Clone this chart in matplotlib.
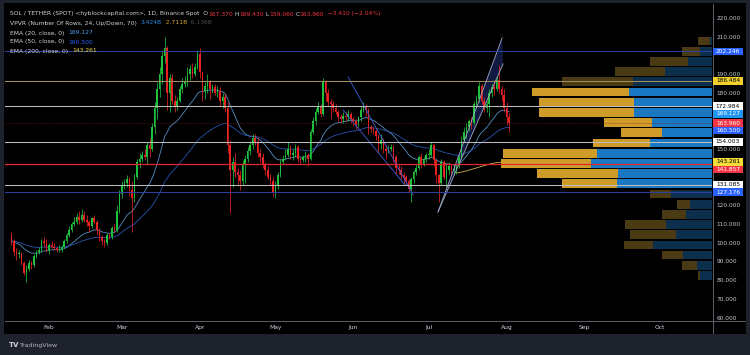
import matplotlib
matplotlib.use('Agg')
import matplotlib.pyplot as plt
import matplotlib.dates as mdates
from matplotlib.patches import Rectangle, Polygon
from matplotlib.transforms import IdentityTransform
import numpy as np
import pandas as pd

plt.rcParams['font.family'] = ['DejaVu Sans']

# ---- daily candles SOL/USDT, 2024-01-17 .. 2024-08-02 ----
start_date = '2024-01-17'
first_open = 104
closes = [
    101, 95, 94, 94, 89, 84, 86, 89, 88, 93, 95, 96, 101, 100, 96,
    99, 98, 97, 96, 96, 98, 101, 104, 107, 110, 111, 114, 112, 115, 112, 111, 109, 113, 111, 107,
    103, 101, 100, 104, 103, 108, 107, 117, 126,
    131, 132, 134, 128, 124, 135, 143, 145, 147, 146, 152, 150, 162, 172, 182, 190, 200, 204, 180, 188,
    176, 173, 176, 182, 185, 186, 190, 193, 190, 194, 201,
    191, 181, 184, 186, 182, 183, 180, 181, 176, 178, 172, 152, 139, 143, 138, 136, 133, 142, 145, 149,
    152, 156, 154, 148, 146, 142, 139, 135, 133, 127,
    131, 136, 143, 145, 147, 150, 147, 148, 151, 145, 144, 146, 147, 145, 159, 165, 170, 173, 169, 186,
    180, 175, 174, 172, 170, 167, 166, 168, 167, 169, 166,
    165, 163, 167, 171, 173, 171, 162, 161, 160, 157, 153, 155, 150, 149, 150, 151, 146, 140, 139, 136,
    135, 133, 129, 134, 138, 140, 146, 142, 145, 147,
    147, 152, 144, 136, 132, 143, 135, 139, 141, 139, 139, 141, 146, 155, 159, 162, 165, 164, 174, 177,
    184, 176, 172, 174, 180, 183, 182, 187, 182, 179, 172,
    167.37, 163.96]
highs = [
    106, 102, 97, 96, 95, 90, 88, 91, 90, 94, 96, 98, 102, 103, 102,
    100, 101, 100, 98, 99, 99, 102, 105, 109, 111, 114, 116, 117, 118, 117, 115, 112, 114, 115, 112,
    108, 104, 102, 105, 105, 109, 110, 120, 128,
    133, 134, 136, 135, 133, 137, 145, 148, 149, 150, 154, 156, 164, 175, 186, 194, 203, 210, 205, 190,
    190, 179, 178, 184, 188, 189, 194, 195, 196, 196, 203,
    204, 192, 186, 190, 187, 185, 185, 184, 183, 180, 180, 175, 155, 146, 148, 140, 139, 144, 147, 151,
    154, 158, 158, 156, 150, 148, 143, 141, 137, 135,
    133, 138, 145, 147, 150, 154, 152, 150, 153, 152, 146, 147, 149, 148, 161, 167, 172, 175, 174, 188,
    187, 182, 177, 176, 174, 171, 169, 170, 170, 171, 170,
    167, 166, 168, 173, 175, 174, 172, 163, 162, 161, 158, 158, 156, 152, 152, 153, 152, 147, 142, 141,
    138, 136, 134, 135, 139, 142, 147, 148, 146, 148,
    150, 154, 153, 145, 137, 145, 144, 142, 143, 142, 142, 142, 147, 157, 162, 164, 166, 167, 176, 179,
    186, 185, 178, 176, 182, 185, 187, 189, 195, 184, 182,
    175, 169.43]
lows = [
    99, 93, 91, 92, 88, 83, 79, 85, 86, 87, 92, 94, 95, 98, 95,
    94, 97, 96, 95, 95, 95, 97, 100, 103, 106, 109, 110, 110, 111, 111, 109, 106, 108, 110, 104,
    101, 99, 98, 99, 102, 102, 106, 106, 116,
    124, 129, 130, 125, 106, 122, 134, 140, 143, 144, 142, 146, 149, 158, 166, 178, 185, 196, 171, 170,
    174, 170, 171, 175, 180, 183, 184, 187, 188, 189, 193,
    188, 176, 177, 180, 177, 180, 179, 178, 173, 172, 170, 148, 116, 130, 135, 131, 128, 131, 132, 143,
    147, 150, 152, 146, 143, 140, 136, 134, 131, 125,
    124, 129, 135, 142, 144, 146, 145, 144, 146, 143, 142, 143, 143, 141, 144, 158, 163, 169, 167, 168,
    176, 173, 166, 170, 169, 165, 164, 164, 165, 165, 164,
    163, 161, 162, 165, 170, 168, 158, 159, 158, 155, 148, 150, 148, 145, 148, 149, 143, 137, 137, 134,
    132, 131, 127, 122, 132, 136, 139, 140, 141, 143,
    145, 146, 141, 132, 122, 131, 134, 130, 137, 137, 136, 137, 140, 145, 154, 156, 160, 161, 163, 172,
    175, 174, 170, 170, 167, 178, 179, 181, 180, 176, 170,
    163, 159.06]

ema200_start = '2024-07-12'
ema200_tail = [137.3, 137.5, 137.8, 138.1, 138.4, 138.8, 139.2, 139.6, 140.0, 140.4, 140.8,
               141.2, 141.6, 142.0, 142.3, 142.6, 142.8, 143.0, 143.1, 143.2, 143.26]

# ---- visible range volume profile (24 rows, bottom -> top), millions ----
vp_low = 79.8
vp_step = 5.448
vp_up = [31, 40, 77, 158, 97, 121, 68, 59, 108, 253, 250, 322, 307, 165, 133, 160,
         207, 207, 220, 210, 124, 64, 33, 6]
vp_down = [6, 41, 55, 76, 122, 109, 64, 35, 56, 146, 214, 239, 249, 150, 108, 127,
           252, 252, 258, 189, 135, 100, 47, 31]
vp_value_area = range(9, 19)

# ---- horizontal levels ----
levels = [202.246, 186.484, 172.984, 154.003, 141.857, 131.085, 127.176]
level_colors = ['#2f3f9e', '#a38f5c', '#bdbdbd', '#bdbdbd', '#e3262b', '#bdbdbd', '#2f3f9e']
last_price = 163.96

# ---- drawings (date, price) ----
fall_line1 = [('2024-05-29 22:00', 188.6), ('2024-06-24 20:00', 125.6)]
fall_line2 = [('2024-05-27 22:00', 171.0), ('2024-06-21 14:00', 130.9)]
wedge_base = ('2024-07-04 17:00', 116.5)
wedge_top_left = ('2024-07-30 05:00', 209.5)
wedge_top_right = ('2024-07-30 14:00', 195.6)

# ---- axis labels ----
price_labels = [202.246, 186.484, 172.984, 169.127, 163.960, 160.500, 154.003, 143.261,
                141.857, 131.085, 127.176]
price_label_bg = ['#2962ff', '#f2d12e', '#ffffff', '#2196f3', '#f23645', '#2962ff', '#ffffff',
                  '#f5dc3b', '#f23645', '#ffffff', '#2962ff']
price_label_fg = ['white', 'black', 'black', 'white', 'white', 'white', 'black', 'black',
                  'white', 'black', 'white']
months = ['2024-02-01', '2024-03-01', '2024-04-01', '2024-05-01', '2024-06-01',
          '2024-07-01', '2024-08-01', '2024-09-01', '2024-10-01']
month_names = ['Feb', 'Mar', 'Apr', 'May', 'Jun', 'Jul', 'Aug', 'Sep', 'Oct']

W, H = 750, 355
fig = plt.figure(figsize=(W / 100, H / 100), dpi=100, facecolor='#1e222d')

bg = fig.add_axes([0, 0, 1, 1])
bg.set_xlim(0, W)
bg.set_ylim(H, 0)
bg.axis('off')
bg.add_patch(Rectangle((4, 3), 742, 331, color='#000000', lw=0))
bg.plot([712.5, 712.5], [4, 333], color='#5d606b', lw=0.7)
bg.plot([5, 745], [321, 321], color='#5d606b', lw=0.7)

ax = fig.add_axes([5 / W, (H - 321) / H, 707 / W, 317 / H])
ax.set_facecolor('none')
for s in ax.spines.values():
    s.set_visible(False)

dates = pd.date_range(start_date, periods=len(closes), freq='D')
x = mdates.date2num(dates)
c = np.array(closes, float)
o = np.concatenate([[first_open], c[:-1]])
h = np.maximum(np.array(highs, float), np.maximum(o, c))
l = np.minimum(np.array(lows, float), np.minimum(o, c))
up = c >= o
cols = np.where(up, '#1fc23c', '#ea2222')

ax.set_xlim(mdates.date2num(pd.Timestamp('2024-01-14 12:00')),
            mdates.date2num(pd.Timestamp('2024-10-21 16:00')))
ax.set_ylim(58.2, 227.6)

ax.vlines(x, l, h, colors=cols, lw=0.55, zorder=3)
body = np.maximum(np.abs(c - o), 0.35)
ax.bar(x, body, bottom=np.minimum(o, c), width=0.62, color=cols, lw=0, zorder=3)

ema20 = pd.Series(c).ewm(span=20, adjust=False).mean()
ema50 = pd.Series(c).ewm(span=50, adjust=False).mean()
ax.plot(x, ema20, color='#5b9bd5', lw=0.55, zorder=2)
ax.plot(x, ema50, color='#2d5bbf', lw=0.55, zorder=2)
x200 = mdates.date2num(pd.date_range(ema200_start, periods=len(ema200_tail), freq='D'))
ax.plot(x200, ema200_tail, color='#d4b04a', lw=0.6, zorder=2)


def pt(p):
    return mdates.date2num(pd.Timestamp(p[0])), p[1]


b0, tl, tr = pt(wedge_base), pt(wedge_top_left), pt(wedge_top_right)
ax.add_patch(Polygon([b0, tl, tr], closed=True, fc='#1b2a6b', alpha=0.6, lw=0, zorder=1))
ax.plot([b0[0], tl[0]], [b0[1], tl[1]], color='#a6aecb', lw=0.6, zorder=4)
ax.plot([b0[0], tr[0]], [b0[1], tr[1]], color='#a6aecb', lw=0.6, zorder=4)
for ln in (fall_line1, fall_line2):
    p0, p1 = pt(ln[0]), pt(ln[1])
    ax.plot([p0[0], p1[0]], [p0[1], p1[1]], color='#3f5fd8', lw=0.6, zorder=4)

# volume profile on a twin x axis, bars grow leftwards from the price scale
vax = ax.twiny()
vax.set_facecolor('none')
vax.xaxis.set_visible(False)
for s in vax.spines.values():
    s.set_visible(False)
tot = np.array(vp_up) + np.array(vp_down)
vax.set_xlim(tot.max() * 3.35, 0)
for i in range(len(vp_up)):
    yc = vp_low + (i + 0.5) * vp_step
    bright = i in vp_value_area
    cu = '#1a78c2' if bright else '#0c2f4d'
    cd = '#cf9c2a' if bright else '#4a3b15'
    vax.barh(yc, vp_up[i], left=0, height=vp_step * 0.86, color=cu, lw=0, zorder=1)
    vax.barh(yc, vp_down[i], left=vp_up[i], height=vp_step * 0.86, color=cd, lw=0, zorder=1)

for lv, lc in zip(levels, level_colors):
    vax.axhline(lv, color=lc, lw=0.75 if lc != '#e3262b' else 0.9, zorder=3)
vax.axhline(last_price, color='#7a1c1c', lw=0.5, ls=(0, (1, 1.5)), zorder=3)

# coloured price tags, pushed apart like TradingView does
tag_h = 7.6
tag_y = [H - ax.transData.transform((ax.get_xlim()[0], v))[1] for v in price_labels]
for i in range(1, len(tag_y)):
    if tag_y[i] - tag_y[i - 1] < tag_h:
        tag_y[i] = tag_y[i - 1] + tag_h

# price scale: ticks hidden where a tag sits on them
ticks = np.arange(60, 230, 10)
tick_txt = []
for v in ticks:
    ty = H - ax.transData.transform((ax.get_xlim()[0], v))[1]
    hidden = any(abs(ty - yy) < 6.0 for yy in tag_y)
    tick_txt.append('' if hidden else f'{v:.3f}')
ax.yaxis.tick_right()
ax.set_yticks(ticks)
ax.set_yticklabels(tick_txt)
ax.tick_params(axis='y', length=0, pad=3.4, labelsize=4.2, labelcolor='#c3c6ce')

ax.set_xticks([mdates.date2num(pd.Timestamp(m)) for m in months])
ax.set_xticklabels(month_names)
ax.tick_params(axis='x', length=0, pad=2.6, labelsize=4.3, labelcolor='#d1d4dc')

ov = fig.add_axes([0, 0, 1, 1], zorder=10)
ov.set_xlim(0, W)
ov.set_ylim(H, 0)
ov.axis('off')
ov.patch.set_visible(False)
for v, yy, b, f in zip(price_labels, tag_y, price_label_bg, price_label_fg):
    ov.add_patch(Rectangle((713, yy - tag_h / 2), 30, tag_h, color=b, lw=0))
    ov.text(728, yy, f'{v:.3f}', ha='center', va='center', fontsize=4.2, color=f)

# legend / header
renderer = fig.canvas.get_renderer()


def header(xp, yp, parts, fs=4.3):
    for s, col in parts:
        t = fig.text(xp, H - yp, s, color=col, fontsize=fs, va='center', ha='left',
                     transform=IdentityTransform(), zorder=12)
        xp = t.get_window_extent(renderer).x1


gray = '#d1d4dc'
red = '#f23645'
header(10, 14, [('SOL / TETHER (SPOT) <hyblockcapital.com>, 1D, Binance Spot  O', gray), ('167.370', red),
                (' H', gray), ('169.430', red), (' L', gray), ('159.060', red), (' C', gray),
                ('163.960', red), ('  \u22123.410 (\u22122.04%)', red)])
header(10, 23, [('VPVR (Number Of Rows, 24, Up/Down, 70)  ', gray), ('3.424B', '#2a8ce6'),
                ('  2.711B', '#d9a628'), ('  6.136B', '#4a4d57')])
header(10, 33, [('EMA (20, close, 0)  ', gray), ('169.127', '#4aa3f0')])
header(10, 42, [('EMA (50, close, 0)  ', gray), ('160.500', '#2962ff')])
header(10, 51, [('EMA (200, close, 0)  ', gray), ('143.261', '#f5dc3b')])

fig.text(9 / W, 1 - 345 / H, 'TV', color='#d1d4dc', fontsize=5, fontweight='bold', va='center')
fig.text(20 / W, 1 - 345 / H, 'TradingView', color='#b2b5be', fontsize=4.5, va='center')

fig.savefig('out.png', dpi=100, facecolor=fig.get_facecolor())
